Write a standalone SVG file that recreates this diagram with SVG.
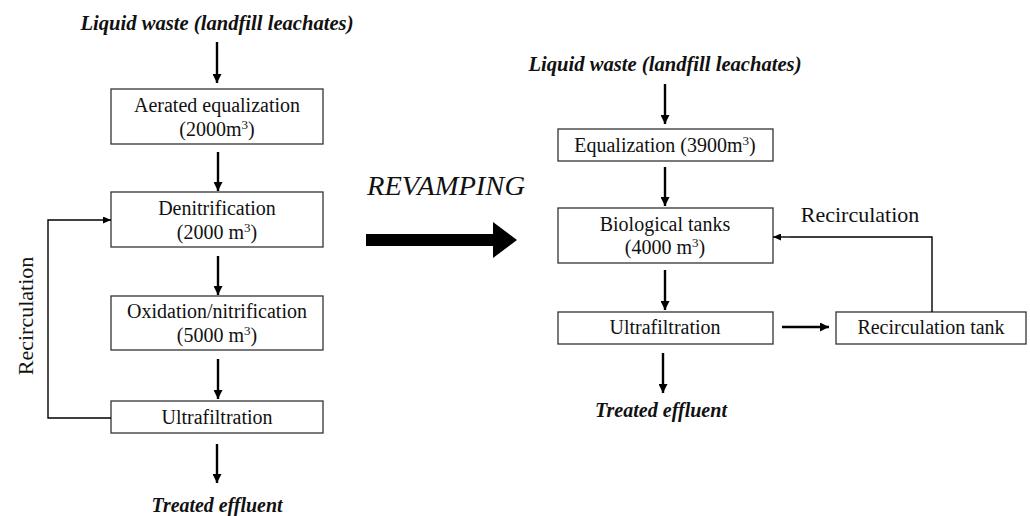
<svg xmlns="http://www.w3.org/2000/svg" width="1030" height="516" viewBox="0 0 1030 516" font-family="'Liberation Serif', 'Times New Roman', serif">
<style>
.box{fill:#fff;stroke:#333;stroke-width:1.3}
.t{font-size:20px;fill:#111;text-anchor:middle}
.title{font-size:20px;font-weight:bold;font-style:italic;fill:#111;text-anchor:middle}
.lbl{font-size:22px;fill:#111;text-anchor:middle}
.flow{stroke:#000;stroke-width:2.4;fill:none;marker-end:url(#ah)}
.thin{stroke:#000;stroke-width:1.4;fill:none}
.thinA{stroke:#000;stroke-width:1.4;fill:none;marker-end:url(#ahs)}
</style>
<defs>
<marker id="ah" markerWidth="9" markerHeight="9" refX="9" refY="4.5" orient="auto" markerUnits="userSpaceOnUse">
<path d="M0,0 L9,4.5 L0,9 Z" fill="#000"/>
</marker>
<marker id="ahs" markerWidth="8" markerHeight="7" refX="8" refY="3.5" orient="auto" markerUnits="userSpaceOnUse">
<path d="M0,0 L8,3.5 L0,7 Z" fill="#000"/>
</marker>
</defs>

<text class="title" x="217" y="30" textLength="273" lengthAdjust="spacingAndGlyphs">Liquid waste (landfill leachates)</text>
<text class="title" x="665" y="71" textLength="273" lengthAdjust="spacingAndGlyphs">Liquid waste (landfill leachates)</text>
<text class="title" x="217" y="512" textLength="131" lengthAdjust="spacingAndGlyphs">Treated effluent</text>
<text class="title" x="661" y="417" textLength="132" lengthAdjust="spacingAndGlyphs">Treated effluent</text>

<g id="aerated">
<rect class="box" x="111" y="89" width="212" height="55"/>
<text class="t" x="217" y="112">Aerated equalization</text>
<text class="t" x="217" y="136">(2000m<tspan dy="-7" font-size="13">3</tspan><tspan dy="7">)</tspan></text>
</g>
<g id="denitrification">
<rect class="box" x="111" y="192" width="212" height="55"/>
<text class="t" x="217" y="215">Denitrification</text>
<text class="t" x="217" y="239">(2000 m<tspan dy="-7" font-size="13">3</tspan><tspan dy="7">)</tspan></text>
</g>
<g id="oxidation">
<rect class="box" x="111" y="296" width="212" height="54"/>
<text class="t" x="217" y="318">Oxidation/nitrification</text>
<text class="t" x="217" y="342">(5000 m<tspan dy="-7" font-size="13">3</tspan><tspan dy="7">)</tspan></text>
</g>
<g id="ultrafiltration-left">
<rect class="box" x="111" y="401" width="212" height="32"/>
<text class="t" x="217" y="424">Ultrafiltration</text>
</g>

<g id="revamping">
<text x="446" y="195" font-size="28" font-style="italic" fill="#111" text-anchor="middle" textLength="158" lengthAdjust="spacingAndGlyphs">REVAMPING</text>
<polygon points="366,234 493,234 493,222 517,240 493,258 493,246 366,246" fill="#000"/>
</g>

<g id="equalization">
<rect class="box" x="558" y="129" width="215" height="32"/>
<text class="t" x="665" y="152">Equalization  (3900m<tspan dy="-7" font-size="13">3</tspan><tspan dy="7">)</tspan></text>
</g>
<g id="biological">
<rect class="box" x="558" y="208" width="215" height="55"/>
<text class="t" x="665" y="231">Biological  tanks</text>
<text class="t" x="665" y="254">(4000 m<tspan dy="-7" font-size="13">3</tspan><tspan dy="7">)</tspan></text>
</g>
<g id="ultrafiltration-right">
<rect class="box" x="558" y="312" width="215" height="32"/>
<text class="t" x="665" y="334">Ultrafiltration</text>
</g>
<g id="recirculation-tank">
<rect class="box" x="836" y="312" width="190" height="32"/>
<text class="t" x="931" y="334">Recirculation  tank</text>
</g>

<text class="lbl" x="860" y="222">Recirculation</text>
<text class="lbl" transform="translate(33,316) rotate(-90)">Recirculation</text>

<g id="connectors">
<line class="flow" x1="217" y1="42" x2="217" y2="83"/>
<line class="flow" x1="218" y1="152" x2="218" y2="191"/>
<line class="flow" x1="218" y1="256" x2="218" y2="295"/>
<line class="flow" x1="218" y1="359" x2="218" y2="399"/>
<line class="flow" x1="217" y1="444" x2="217" y2="483"/>
<polyline class="thin" points="111,418 48,418 48,220 60,220"/>
<line class="thinA" x1="60" y1="220" x2="111" y2="220"/>

<line class="flow" x1="665" y1="84" x2="665" y2="124"/>
<line class="flow" x1="665" y1="167" x2="665" y2="206"/>
<line class="flow" x1="665" y1="270" x2="665" y2="310"/>
<line class="flow" x1="663" y1="353" x2="663" y2="393"/>
<line class="flow" x1="782" y1="327" x2="829" y2="327"/>
<polyline class="thin" points="932,312 932,237 790,237"/>
<line class="thinA" x1="790" y1="237" x2="773" y2="237"/>
</g>
</svg>
